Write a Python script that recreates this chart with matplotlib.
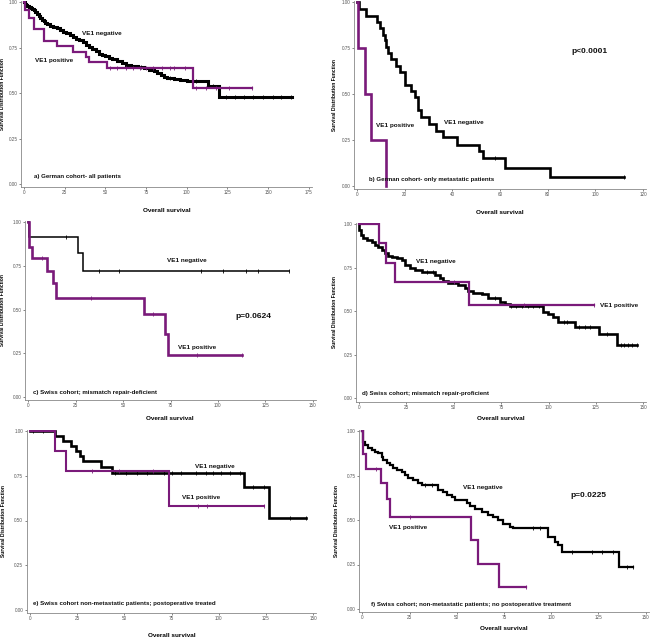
import numpy as np
import matplotlib
matplotlib.use("Agg")
import matplotlib.pyplot as plt

plt.rcParams['font.family'] = ['Liberation Sans', 'DejaVu Sans']

BLACK = "#000000"
PURPLE = "#7a1a7a"

# ---- a) German cohort - all patients
a_neg_t = [0.5, 1, 2, 3, 4, 5, 6, 7, 8, 9, 10, 11, 12, 13, 14, 16, 18, 20, 22, 24, 26, 28, 30, 32, 34,
           36, 38, 40, 42, 44, 46, 48, 50, 52, 54, 57, 60, 63, 66, 70, 74, 77, 80, 82, 84, 86, 88, 92, 96,
           100, 113, 120]
a_neg_s = [0.99, 0.985, 0.98, 0.975, 0.97, 0.965, 0.955, 0.945, 0.935, 0.925, 0.915, 0.905, 0.895, 0.885,
           0.878, 0.87, 0.865, 0.857, 0.85, 0.838, 0.829, 0.82, 0.811, 0.80, 0.79, 0.78, 0.765, 0.755,
           0.745, 0.73, 0.716, 0.71, 0.705, 0.695, 0.686, 0.675, 0.665, 0.655, 0.648, 0.645, 0.637, 0.63,
           0.62, 0.61, 0.60, 0.59, 0.584, 0.578, 0.572, 0.569, 0.539, 0.481]
a_neg_cens = [66, 72, 90, 106, 116, 124, 130, 135, 141, 147, 153, 158, 164]
a_neg_end = 165
a_pos_t = [0.8, 2.9, 6.4, 12.3, 20, 30, 38, 39.8, 50.8, 103.7]
a_pos_s = [0.958, 0.912, 0.851, 0.789, 0.76, 0.728, 0.697, 0.672, 0.637, 0.527]
a_pos_cens = [53, 57, 63, 67, 71, 75, 79, 85, 90, 92, 99, 106, 112, 118, 126, 140]
a_pos_end = 140

# ---- b) German cohort - only metastatic patients
b_neg_t = [0.8, 3.9, 8.4, 9.5, 10.9, 11.6, 12.3, 13, 14.4, 16.5, 17.9, 20, 22.6, 24.3, 25.4, 27, 30.3,
           33.1, 36.2, 42, 51.2, 53, 62.1, 81]
b_neg_s = [0.964, 0.927, 0.895, 0.858, 0.822, 0.795, 0.758, 0.722, 0.689, 0.655, 0.622, 0.549, 0.518,
           0.482, 0.413, 0.376, 0.34, 0.30, 0.267, 0.225, 0.189, 0.153, 0.10, 0.049]
b_neg_cens = [58, 112]
b_neg_end = 112
b_pos_t = [0.3, 3.3, 6, 12.3]
b_pos_s = [0.75, 0.5, 0.25, 0.0]
b_pos_cens = []
b_pos_end = 12.3

# ---- c) Swiss cohort; mismatch repair-deficient
c_neg_t = [0.5, 26, 29]
c_neg_s = [0.917, 0.825, 0.72]
c_neg_cens = [20, 37.3, 47.7, 91.3, 102.5, 114.8, 121, 137.5]
c_neg_end = 137.5
c_pos_t = [0.5, 2, 10, 13, 14.5, 61, 72, 73.5]
c_pos_s = [0.861, 0.796, 0.723, 0.655, 0.569, 0.475, 0.359, 0.239]
c_pos_cens = [7, 33, 65.6, 89.2, 112.5]
c_pos_end = 112.5

# ---- d) Swiss cohort; mismatch repair-proficient
d_neg_t = [0.2, 1, 2.3, 4, 6.7, 8.4, 10.2, 12, 13.7, 15.5, 17.2, 19.9, 22.5, 24.3, 26.9, 29.5, 33, 40,
           42.7, 44.5, 47.1, 52.4, 55.9, 57.7, 60.3, 64.7, 68.2, 74.4, 77, 79.7, 97.2, 99.9, 102.5, 105.2,
           114, 126.6, 135.9]
d_neg_s = [0.965, 0.937, 0.918, 0.908, 0.899, 0.88, 0.866, 0.851, 0.832, 0.816, 0.809, 0.803, 0.793,
           0.765, 0.746, 0.736, 0.727, 0.707, 0.688, 0.675, 0.66, 0.65, 0.631, 0.618, 0.602, 0.598, 0.574,
           0.555, 0.541, 0.53, 0.497, 0.484, 0.465, 0.436, 0.411, 0.369, 0.306]
d_neg_cens = [36, 39, 72, 80, 83, 86, 89, 92, 95, 108, 110, 116, 119, 122, 131, 138, 140, 142, 144, 146.5]
d_neg_end = 146.5
d_pos_t = [10.5, 14, 19, 58]
d_pos_s = [0.889, 0.778, 0.667, 0.533]
d_pos_cens = [50, 87, 124]
d_pos_end = 124

# ---- e) Swiss cohort non-metastatic patients; postoperative treated
e_neg_t = [13.5, 17.5, 22, 24.5, 26.5, 28, 37.5, 43.5, 113.5, 126.5]
e_neg_s = [0.972, 0.944, 0.917, 0.889, 0.861, 0.833, 0.80, 0.765, 0.688, 0.516]
e_neg_cens = [2, 7, 45, 51, 57, 62, 71, 75, 80, 88, 93, 97, 101, 106, 111, 118, 124, 137.7, 146]
e_neg_end = 146
e_pos_t = [13.5, 19, 73.5]
e_pos_s = [0.889, 0.778, 0.583]
e_pos_cens = [32.8, 47, 65, 89, 94, 124]
e_pos_end = 124

# ---- f) Swiss cohort; non-metastatic patients; no postoperative treatment
f_neg_t = [0.2, 0.5, 1.4, 2.8, 4.9, 6.7, 8.5, 10.2, 11.1, 12.9, 14.6, 16.4, 18.2, 20.8, 22.6, 24.4, 27,
           29.6, 31.4, 40.2, 42.9, 44.6, 47.3, 49.1, 55.2, 57, 59.6, 63.2, 66.7, 69.3, 72, 74.6, 78.2, 79.9,
           98.1, 100.2, 102, 103.8, 105.5, 135.9]
f_neg_s = [0.978, 0.94, 0.921, 0.903, 0.893, 0.884, 0.875, 0.856, 0.837, 0.822, 0.809, 0.79, 0.781, 0.772,
           0.753, 0.734, 0.725, 0.706, 0.697, 0.669, 0.66, 0.64, 0.627, 0.612, 0.594, 0.579, 0.56, 0.547,
           0.528, 0.515, 0.5, 0.478, 0.462, 0.453, 0.406, 0.402, 0.378, 0.36, 0.318, 0.238]
f_neg_cens = [33, 36.7, 90.5, 94, 110.8, 121.8, 126.7, 132.9, 140, 143.5]
f_neg_end = 143.5
f_pos_t = [0.3, 2, 10, 13, 14.5, 57.5, 61, 72.5]
f_pos_s = [0.871, 0.788, 0.706, 0.618, 0.515, 0.388, 0.253, 0.125]
f_pos_cens = [7, 25, 86.5]
f_pos_end = 86.5

# panel layout in pixels: (x of t=0, x of t=xmax, xmax, left spine, right end,
#                          y of S=1, y of S=0, bottom spine, top)
W, H = 651, 642
panels = [
    dict(geo=(24, 308.7, 175, 21, 312, 2.3, 184, 187, 1), xstep=25,
         neg=(a_neg_t, a_neg_s, a_neg_cens, a_neg_end, 2.2), pos=(a_pos_t, a_pos_s, a_pos_cens, a_pos_end, 1.6),
         texts=[(35.6, 0.83, "VE1 negative", 4.6), (6.8, 0.68, "VE1 positive", 4.6),
                (6.1, 0.04, "a) German cohort- all patients", 4.4)],
         xl=21, yl=16),
    dict(geo=(357, 643, 120, 354, 646, 2.3, 186, 188.5, 1), xstep=20,
         neg=(b_neg_t, b_neg_s, b_neg_cens, b_neg_end, 1.9), pos=(b_pos_t, b_pos_s, b_pos_cens, b_pos_end, 1.9),
         texts=[(8, 0.332, "VE1 positive", 4.6), (36.5, 0.343, "VE1 negative", 4.6),
                (5, 0.038, "b) German cohort- only metastatic patients", 4.4),
                (89.8, 0.73, "p<0.0001", 6.0)],
         xl=22, yl=17),
    dict(geo=(28.3, 312.7, 150, 25, 315.5, 222.3, 397, 400, 221), xstep=25,
         neg=(c_neg_t, c_neg_s, c_neg_cens, c_neg_end, 1.1), pos=(c_pos_t, c_pos_s, c_pos_cens, c_pos_end, 1.9),
         texts=[(73.2, 0.784, "VE1 negative", 4.6), (109, 0.458, "p=0.0624", 6.0),
                (79, 0.286, "VE1 positive", 4.6), (2.5, 0.023, "c) Swiss cohort; mismatch repair-deficient", 4.4)],
         xl=16, yl=20),
    dict(geo=(359, 643.3, 150, 356, 646, 224, 398.3, 401.5, 223), xstep=25,
         neg=(d_neg_t, d_neg_s, d_neg_cens, d_neg_end, 1.9), pos=(d_pos_t, d_pos_s, d_pos_cens, d_pos_end, 1.6),
         texts=[(30, 0.782, "VE1 negative", 4.6), (127, 0.535, "VE1 positive", 4.6),
                (1.6, 0.03, "d) Swiss cohort; mismatch repair-proficient", 4.4)],
         xl=14, yl=19),
    dict(geo=(29.7, 313.3, 150, 26.7, 316, 431, 610, 613, 430), xstep=25,
         neg=(e_neg_t, e_neg_s, e_neg_cens, e_neg_end, 1.9), pos=(e_pos_t, e_pos_s, e_pos_cens, e_pos_end, 1.5),
         texts=[(87.4, 0.804, "VE1 negative", 4.6), (80.5, 0.626, "VE1 positive", 4.6),
                (1.7, 0.039, "e) Swiss cohort non-metastatic patients; postoperative treated", 4.4)],
         xl=20, yl=21),
    dict(geo=(362.3, 645.7, 150, 359, 649, 431, 609, 612, 430), xstep=25,
         neg=(f_neg_t, f_neg_s, f_neg_cens, f_neg_end, 1.6), pos=(f_pos_t, f_pos_s, f_pos_cens, f_pos_end, 1.6),
         texts=[(53.3, 0.68, "VE1 negative", 4.6), (110, 0.64, "p=0.0225", 6.0),
                (14.3, 0.46, "VE1 positive", 4.6),
                (4.6, 0.028, "f) Swiss cohort; non-metastatic patients; no postoperative treatment", 4.4)],
         xl=14, yl=20),
]


def km_curve(ax, t, s, cens, end, lw, color):
    tt = np.concatenate([[0], t, [end]])
    ss = np.concatenate([[1.0], s, [s[-1]]])
    ax.step(tt, ss, where="post", color=color, lw=lw, solid_joinstyle="miter")
    if len(cens):
        idx = np.searchsorted(tt, cens, side="right") - 1
        ax.plot(cens, ss[idx], ls="none", marker="|", ms=2.5, mew=0.6, color=color)


fig = plt.figure(figsize=(W / 100, H / 100), dpi=100)
for p in panels:
    x0p, x1p, xmax, lsp, rend, y1p, y0p, bsp, top = p["geo"]
    xs = (x1p - x0p) / xmax
    ys = (y0p - y1p)
    ax = fig.add_axes([lsp / W, 1 - bsp / H, (rend - lsp) / W, (bsp - top) / H])
    ax.set_xlim((lsp - x0p) / xs, (rend - x0p) / xs)
    ax.set_ylim((y0p - bsp) / ys, (y0p - top) / ys)
    for side in ("top", "right"):
        ax.spines[side].set_visible(False)
    for side in ("left", "bottom"):
        ax.spines[side].set_color("#888888")
        ax.spines[side].set_linewidth(0.6)
    ax.set_xticks(np.arange(0, xmax + 1, p["xstep"]))
    ax.set_yticks([0, 0.25, 0.5, 0.75, 1.0])
    ax.set_yticklabels(["0.00", "0.25", "0.50", "0.75", "1.00"])
    ax.tick_params(labelsize=3.3, colors="#555555", length=1.5, width=0.5, pad=1)

    t, s, c, e, lw = p["neg"]
    km_curve(ax, t, s, c, e, lw, BLACK)
    t, s, c, e, lw = p["pos"]
    km_curve(ax, t, s, c, e, lw, PURPLE)

    for tx, ty, label, fs in p["texts"]:
        ax.text(tx, ty, label, fontsize=fs, fontweight="bold", va="center", ha="left", color="#111111")

    ax.set_xlabel("Overall survival", fontsize=4.6, fontweight="bold")
    ax.xaxis.set_label_coords(0.5, -p["xl"] / (bsp - top))
    ax.set_ylabel("Survival Distribution Function", fontsize=3.6, fontweight="bold")
    ax.yaxis.set_label_coords(-p["yl"] / (rend - lsp), 0.5)

fig.savefig("out.png", dpi=100)
